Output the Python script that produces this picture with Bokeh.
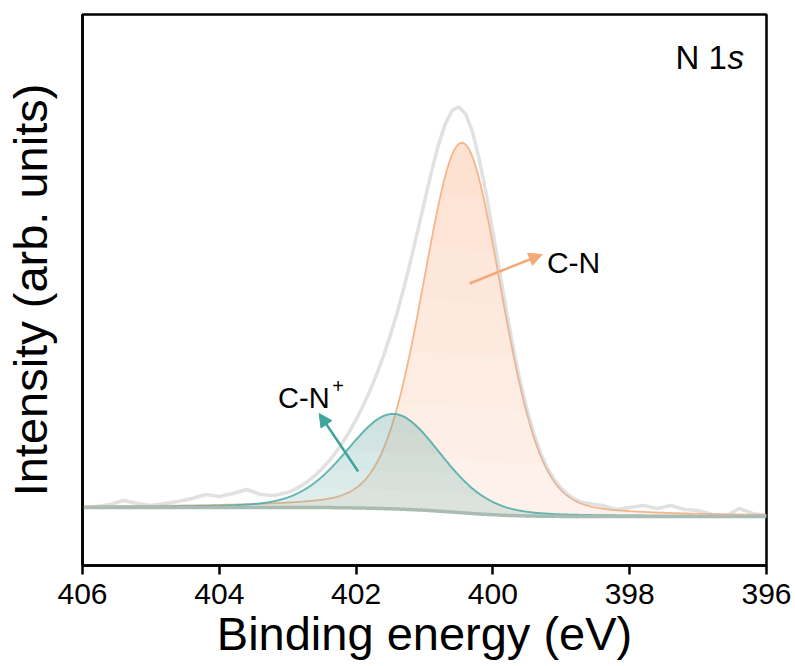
import numpy as np
from bokeh.plotting import figure
from bokeh.models import Range1d, FixedTicker, Arrow, NormalHead
from bokeh.core.properties import value
from bokeh.embed import file_html
from bokeh.resources import INLINE

# ---- measured N 1s spectrum (binding energy in eV, intensity in counts) ----
raw_be = [406.0, 405.8, 405.6, 405.4, 405.2, 405.0, 404.8, 404.6, 404.4, 404.2,
          404.0, 403.8, 403.6, 403.4, 403.2, 403.0, 402.9, 402.8, 402.7, 402.6,
          402.5, 402.4, 402.3, 402.2, 402.1, 402.0, 401.9, 401.8, 401.7, 401.6,
          401.5, 401.4, 401.3, 401.2, 401.1, 401.0, 400.9, 400.8, 400.7, 400.6,
          400.5, 400.4, 400.3, 400.2, 400.1, 400.0, 399.9, 399.8, 399.7, 399.6,
          399.5, 399.4, 399.3, 399.2, 399.1, 399.0, 398.9, 398.8, 398.7, 398.6,
          398.4, 398.2, 398.0, 397.8, 397.6, 397.4, 397.2, 397.0, 396.8, 396.6,
          396.4, 396.2, 396.0]
raw_counts = [580, 590, 610, 650, 620, 600, 620, 640, 670, 710,
              690, 720, 760, 710, 700, 730, 761, 798, 845, 901,
              967, 1042, 1129, 1227, 1336, 1458, 1594, 1743, 1911, 2095,
              2301, 2528, 2780, 3052, 3343, 3640, 3931, 4196, 4409, 4547,
              4588, 4518, 4338, 4064, 3722, 3336, 2934, 2539, 2169, 1839,
              1554, 1315, 1121, 971, 856, 771, 708, 664, 633, 620,
              600, 560, 580, 600, 570, 600, 560, 550, 510, 490,
              570, 520, 500]

# ---- Shirley-type background knots ----
bg_be = [406.0, 402.6, 402.2, 401.8, 401.4, 401.0, 400.6, 400.2, 399.8, 399.4, 399.0, 398.6, 396.0]
bg_counts = [580, 580, 578, 573, 565, 553, 535, 515, 501, 494, 491, 490, 490]

# ---- fitted components (Gaussian-Lorentzian) ----
peak_names = ["C-N", "C-N+"]
peak_center = [400.45, 401.45]
peak_fwhm = [1.36, 1.62]
peak_height = [3700, 950]
peak_mix = [0.2, 0.2]

x_ticks = [406, 404, 402, 400, 398, 396]

FONT = "Liberation Sans"


def gl(x, c, w, h, m):
    d2 = (x - c) ** 2
    g = np.exp(-4 * np.log(2) * d2 / w ** 2)
    lor = 1.0 / (1.0 + 4 * d2 / w ** 2)
    return h * ((1 - m) * g + m * lor)


e = np.linspace(406, 396, 801)
bg = np.interp(e, bg_be[::-1], bg_counts[::-1])
shape = [gl(e, peak_center[i], peak_fwhm[i], peak_height[i], peak_mix[i]) for i in range(2)]
comp = [bg + s for s in shape]

p = figure(width=795, height=666,
           x_range=Range1d(406, 396), y_range=Range1d(0, 5510),
           output_backend="svg", toolbar_location=None,
           min_border_left=81, min_border_right=29,
           min_border_top=14, min_border_bottom=101)
p.background_fill_color = "white"
p.border_fill_color = "white"
p.outline_line_color = "black"
p.outline_line_width = 2.5
p.xgrid.visible = False
p.ygrid.visible = False

# x axis
xa = p.xaxis[0]
xa.ticker = FixedTicker(ticks=x_ticks)
xa.minor_tick_line_color = None
xa.major_tick_out = 9
xa.major_tick_in = 0
xa.major_tick_line_width = 2.5
xa.major_tick_line_color = "black"
xa.axis_line_width = 2.5
xa.axis_line_color = "black"
xa.major_label_text_font = FONT
xa.major_label_text_font_size = "30px"
xa.major_label_text_color = "black"
xa.major_label_standoff = 9
xa.axis_label = "Binding energy (eV)"
xa.axis_label_text_font = FONT
xa.axis_label_text_font_size = "47px"
xa.axis_label_text_font_style = "normal"
xa.axis_label_text_color = "black"
xa.axis_label_standoff = 0

# y axis: frame line and title only, no ticks
ya = p.yaxis[0]
ya.ticker = FixedTicker(ticks=[])
ya.minor_tick_line_color = None
ya.major_tick_out = 0
ya.major_tick_in = 0
ya.major_label_standoff = 0
ya.axis_line_width = 2.5
ya.axis_line_color = "black"
ya.axis_label = "Intensity (arb. units)"
ya.axis_label_text_font = FONT
ya.axis_label_text_font_size = "47px"
ya.axis_label_text_font_style = "normal"
ya.axis_label_text_color = "black"
ya.axis_label_standoff = 26

# component fills (denser toward the peak top) and outlines
ORANGE_FILL = "#f5b088"
ORANGE_LINE = "#f4aa78"
TEAL_FILL = "#5aa9a5"
TEAL_LINE = "#55aeaa"


def shaded(s, color, base_alpha, layer_alpha, n_layers):
    p.varea(x=e, y1=bg, y2=bg + s, fill_color=color, fill_alpha=base_alpha)
    top = s.max()
    for k in range(1, n_layers + 1):
        cut = top * k / (n_layers + 1)
        p.varea(x=e, y1=bg + np.minimum(s, cut), y2=bg + s,
                fill_color=color, fill_alpha=layer_alpha)


shaded(shape[0], ORANGE_FILL, 0.17, 0.04, 6)
p.line(e, comp[0], line_color=ORANGE_LINE, line_width=1.8, line_alpha=0.85)
shaded(shape[1], TEAL_FILL, 0.2, 0.03, 4)
p.line(e, comp[1], line_color=TEAL_LINE, line_width=2, line_alpha=0.9)

# background
p.line(e, bg, line_color="#a9bcb3", line_width=3.5)

# measured spectrum
p.line(raw_be, raw_counts, line_color="#bdbdbd", line_width=3.5, line_alpha=0.45)

# annotations
p.add_layout(Arrow(end=NormalHead(size=13, fill_color=ORANGE_LINE, line_color=ORANGE_LINE),
                   x_start=400.34, y_start=2820, x_end=399.28, y_end=3110,
                   line_color=ORANGE_LINE, line_width=2.5))
p.add_layout(Arrow(end=NormalHead(size=13, fill_color="#3ea49f", line_color="#3ea49f"),
                   x_start=401.97, y_start=940, x_end=402.54, y_end=1520,
                   line_color="#3ea49f", line_width=2.5))

p.text(x=[399.21], y=[3030], text=[peak_names[0]], text_font=value(FONT),
       text_font_size="30px", text_align="left", text_baseline="alphabetic",
       text_color="black")
p.text(x=[403.14], y=[1680], text=["C-N"], text_font=value(FONT),
       text_font_size="29px", text_align="left", text_baseline="alphabetic",
       text_color="black")
p.text(x=[402.35], y=[1800], text=["+"], text_font=value(FONT),
       text_font_size="20px", text_align="left", text_baseline="alphabetic",
       text_color="black")

p.text(x=[397.33], y=[5080], text=["N 1"], text_font=value(FONT),
       text_font_size="33px", text_align="left", text_baseline="alphabetic",
       text_color="black")
p.text(x=[396.57], y=[5080], text=["s"], text_font=value(FONT),
       text_font_size="33px", text_font_style="italic", text_align="left",
       text_baseline="alphabetic", text_color="black")

open("out.html", "w").write(file_html(p, INLINE))
